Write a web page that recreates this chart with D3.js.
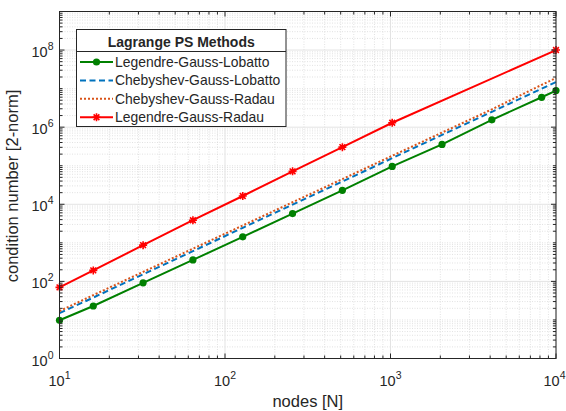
<!DOCTYPE html>
<html>
<head>
<meta charset="utf-8">
<script src="https://cdn.jsdelivr.net/npm/d3@7"></script>
<style>
  body { margin: 0; background: #fff; }
  text { font-family: "Liberation Sans", Arial, sans-serif; fill: #262626; }
</style>
</head>
<body>
<div id="chart"></div>
<script>
// nodes N
var nodes = [10, 16, 32, 64, 128, 256, 512, 1024, 2048, 4096, 8192, 10000];
var lgl = [9.8, 23, 92, 360, 1430, 5750, 23000, 96000, 357000, 1.55e6, 5.96e6, 8.9e6];
var cgl = [15, 38, 153, 610, 2450, 9800, 39000, 157000, 630000, 2.5e6, 1.0e7, 1.48e7];
var cgr = [17, 44, 176, 705, 2820, 11300, 45000, 181000, 725000, 2.9e6, 1.25e7, 1.88e7];
var lgrNodes = [10, 16, 32, 64, 128, 256, 512, 1024, 10000];
var lgr = [70, 193, 870, 3860, 16400, 71400, 303000, 1.3e6, 1.0e8];

var legendTitle = "Lagrange PS Methods";
var seriesNames = ["Legendre-Gauss-Lobatto", "Chebyshev-Gauss-Lobatto", "Chebyshev-Gauss-Radau", "Legendre-Gauss-Radau"];
var xTicks = [1, 2, 3, 4];
var yTicks = [0, 2, 4, 6, 8];

var W = 566, H = 411;
var margin = { top: 11.5, right: 10, bottom: 52.5, left: 59.5 };
var iw = W - margin.left - margin.right, ih = H - margin.top - margin.bottom;

var svg = d3.select("#chart").append("svg").attr("width", W).attr("height", H);
var g = svg.append("g").attr("transform", "translate(" + margin.left + "," + margin.top + ")");

var x = d3.scaleLog().domain([10, 1e4]).range([0, iw]);
var y = d3.scaleLog().domain([1, 1e9]).range([ih, 0]);

// minor values
var xMinor = [], yMinor = [];
for (var d = 1; d < 4; d++) for (var k = 2; k <= 9; k++) xMinor.push(k * Math.pow(10, d));
for (var d = 0; d < 9; d++) for (var k = 1; k <= 9; k++) {
  if (k == 1 && d % 2 == 0) continue;
  yMinor.push(k * Math.pow(10, d));
}

// grid
var grid = g.append("g");
grid.selectAll(".xmin").data(xMinor).enter().append("line")
  .attr("x1", function (v) { return x(v); }).attr("x2", function (v) { return x(v); })
  .attr("y1", 0).attr("y2", ih)
  .attr("stroke", "#cfcfcf").attr("stroke-width", 0.6).attr("stroke-dasharray", "1,1.5");
grid.selectAll(".ymin").data(yMinor).enter().append("line")
  .attr("y1", function (v) { return y(v); }).attr("y2", function (v) { return y(v); })
  .attr("x1", 0).attr("x2", iw)
  .attr("stroke", "#cfcfcf").attr("stroke-width", 0.6).attr("stroke-dasharray", "1,1.5");
grid.selectAll(".xmaj").data(xTicks).enter().append("line")
  .attr("x1", function (e) { return x(Math.pow(10, e)); }).attr("x2", function (e) { return x(Math.pow(10, e)); })
  .attr("y1", 0).attr("y2", ih).attr("stroke", "#e3e3e3").attr("stroke-width", 1);
grid.selectAll(".ymaj").data(yTicks).enter().append("line")
  .attr("y1", function (e) { return y(Math.pow(10, e)); }).attr("y2", function (e) { return y(Math.pow(10, e)); })
  .attr("x1", 0).attr("x2", iw).attr("stroke", "#e3e3e3").attr("stroke-width", 1);

// series
var line = d3.line().x(function (d) { return x(d[0]); }).y(function (d) { return y(d[1]); });
function pairs(xs, ys) { return xs.map(function (v, i) { return [v, ys[i]]; }); }

var series = [
  { data: pairs(nodes, lgl), color: "#008000", dash: null, marker: "o" },
  { data: pairs(nodes, cgl), color: "#0072BD", dash: "6,3.5", marker: null },
  { data: pairs(nodes, cgr), color: "#D95319", dash: "2,2", marker: null },
  { data: pairs(lgrNodes, lgr), color: "#FF0000", dash: null, marker: "*" }
];

function star(sel, cx, cy, color) {
  var r = 4;
  sel.append("path")
    .attr("d", "M" + (cx - r) + "," + cy + "H" + (cx + r) + "M" + cx + "," + (cy - r) + "V" + (cy + r) +
      "M" + (cx - r * 0.72) + "," + (cy - r * 0.72) + "L" + (cx + r * 0.72) + "," + (cy + r * 0.72) +
      "M" + (cx - r * 0.72) + "," + (cy + r * 0.72) + "L" + (cx + r * 0.72) + "," + (cy - r * 0.72))
    .attr("stroke", color).attr("stroke-width", 1.6).attr("fill", "none");
}

var plot = g.append("g");
series.forEach(function (s) {
  plot.append("path").datum(s.data).attr("d", line)
    .attr("fill", "none").attr("stroke", s.color).attr("stroke-width", 2)
    .attr("stroke-dasharray", s.dash);
});
series.forEach(function (s) {
  if (s.marker == "o") {
    plot.selectAll(null).data(s.data).enter().append("circle")
      .attr("cx", function (d) { return x(d[0]); }).attr("cy", function (d) { return y(d[1]); })
      .attr("r", 3.6).attr("fill", s.color);
  } else if (s.marker == "*") {
    s.data.forEach(function (d) { star(plot, x(d[0]), y(d[1]), s.color); });
  }
});

// ticks (inside, all four sides)
var axc = "#262626";
var ticks = g.append("g").attr("stroke", axc).attr("stroke-width", 1);
xTicks.forEach(function (e) {
  var px = x(Math.pow(10, e));
  ticks.append("line").attr("x1", px).attr("x2", px).attr("y1", ih).attr("y2", ih - 5);
  ticks.append("line").attr("x1", px).attr("x2", px).attr("y1", 0).attr("y2", 5);
});
xMinor.forEach(function (v) {
  var px = x(v);
  ticks.append("line").attr("x1", px).attr("x2", px).attr("y1", ih).attr("y2", ih - 3);
  ticks.append("line").attr("x1", px).attr("x2", px).attr("y1", 0).attr("y2", 3);
});
yTicks.forEach(function (e) {
  var py = y(Math.pow(10, e));
  ticks.append("line").attr("y1", py).attr("y2", py).attr("x1", 0).attr("x2", 5);
  ticks.append("line").attr("y1", py).attr("y2", py).attr("x1", iw).attr("x2", iw - 5);
});
yMinor.forEach(function (v) {
  var py = y(v);
  ticks.append("line").attr("y1", py).attr("y2", py).attr("x1", 0).attr("x2", 3);
  ticks.append("line").attr("y1", py).attr("y2", py).attr("x1", iw).attr("x2", iw - 3);
});

g.append("rect").attr("x", 0).attr("y", 0).attr("width", iw).attr("height", ih)
  .attr("fill", "none").attr("stroke", axc).attr("stroke-width", 1);

// tick labels
function powLabel(sel, px, py, e, anchor) {
  var t = sel.append("text").attr("x", px).attr("y", py).attr("text-anchor", anchor).style("font-size", "14.5px");
  t.append("tspan").text("10");
  t.append("tspan").attr("dy", -7).style("font-size", "10.5px").text(e);
  return t;
}
xTicks.forEach(function (e, i) {
  var off = i == xTicks.length - 1 ? -1.5 : 0;
  powLabel(g, x(Math.pow(10, e)) + off, ih + 27, e, "middle");
});
yTicks.forEach(function (e) {
  powLabel(g, -6, y(Math.pow(10, e)) + 7, e, "end");
});

// axis titles
g.append("text").attr("x", iw / 2).attr("y", ih + 48).attr("text-anchor", "middle")
  .style("font-size", "16.5px").text("nodes [N]");
g.append("text").attr("transform", "translate(-41.5," + (ih / 2 + 1) + ") rotate(-90)")
  .attr("text-anchor", "middle").style("font-size", "16.5px").text("condition number [2-norm]");

// legend
var lg = svg.append("g").attr("transform", "translate(76.5,29.5)");
var lw = 209.5, lh = 97;
lg.append("rect").attr("width", lw).attr("height", lh).attr("fill", "#fff").attr("stroke", "#262626").attr("stroke-width", 1);
lg.append("line").attr("x1", 0).attr("x2", lw).attr("y1", 22).attr("y2", 22).attr("stroke", "#262626").attr("stroke-width", 1);
lg.append("text").attr("x", lw / 2).attr("y", 17).attr("text-anchor", "middle")
  .style("font-size", "14px").style("font-weight", "bold").text(legendTitle);
series.forEach(function (s, i) {
  var cy = 32.5 + i * 18.4;
  lg.append("line").attr("x1", 3.5).attr("x2", 36.5).attr("y1", cy).attr("y2", cy)
    .attr("stroke", s.color).attr("stroke-width", 2).attr("stroke-dasharray", s.dash);
  if (s.marker == "o") lg.append("circle").attr("cx", 20).attr("cy", cy).attr("r", 3.6).attr("fill", s.color);
  if (s.marker == "*") star(lg, 20, cy, s.color);
  lg.append("text").attr("x", 38.5).attr("y", cy + 5).style("font-size", "13.9px").text(seriesNames[i]);
});
</script>
</body>
</html>
